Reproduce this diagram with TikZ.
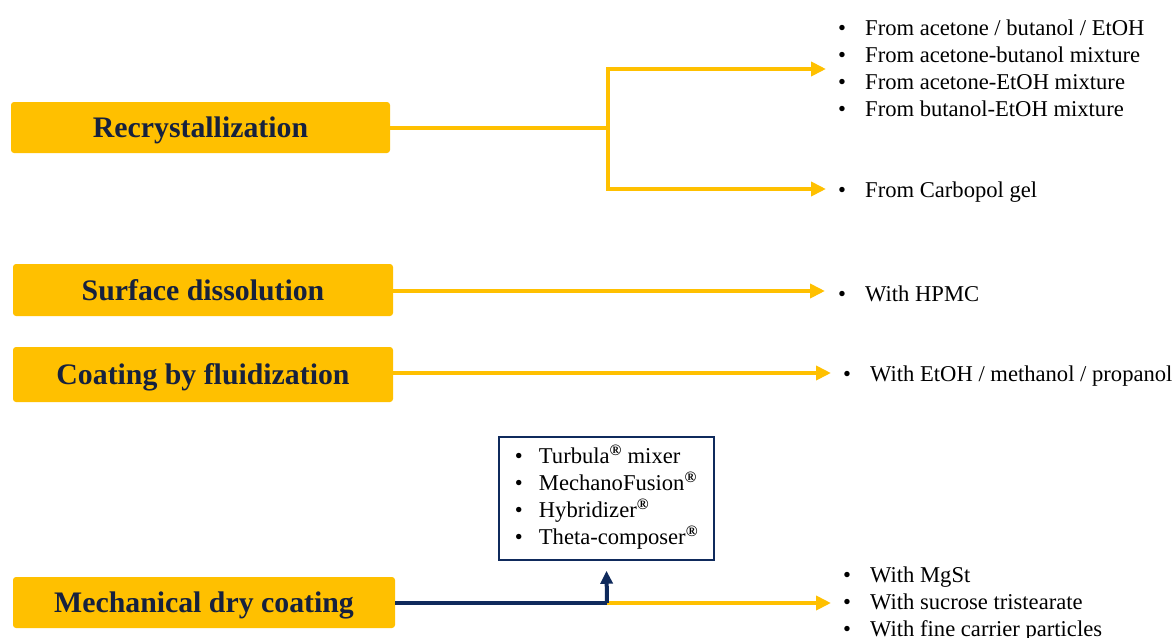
\documentclass[tikz,border=0pt]{standalone}
\usepackage{fontspec}
\setmainfont{Liberation Serif}
\usetikzlibrary{arrows.meta}
\definecolor{gold}{HTML}{FFC000}
\definecolor{navy}{HTML}{0F2A5C}
\definecolor{txtnavy}{HTML}{16213E}
\newcommand{\itm}{\makebox[27pt][l]{\textbullet}}
\newcommand{\itmb}{\makebox[24pt][l]{\textbullet}}
\newcommand{\reg}{\textsuperscript{\textbf{®}}}
\begin{document}
\begin{tikzpicture}[x=1pt,y=-1pt,
  method/.style={fill=gold, rounded corners=3pt, inner sep=0pt,
    text height=20pt, text depth=0pt,
    font=\fontsize{29.8}{34}\selectfont\bfseries, text=txtnavy},
  listtxt/.style={inner sep=0pt, anchor=base west,
    font=\fontsize{22.6}{27}\selectfont, text=black},
  goldline/.style={draw=gold, line width=4pt},
  goldarrow/.style={goldline, -{Triangle[length=15pt,width=14pt]}},
  navyline/.style={draw=navy, line width=4pt},
  navyarrow/.style={navyline, -{Triangle[length=13pt,width=12pt]}},
  toolbox/.style={draw=navy, line width=1.5pt, inner sep=0pt,
    font=\fontsize{22.6}{27}\selectfont, text=black}
]
\useasboundingbox (0,0) rectangle (1174,637);

% method boxes
\node[method, minimum width=379pt, minimum height=51pt] (rec) at (200.5,127.5) {Recrystallization};
\node[method, minimum width=380pt, minimum height=52pt] (surf) at (203,290) {Surface dissolution};
\node[method, minimum width=380pt, minimum height=55pt] (coat) at (203,374.5) {Coating by fluidization};
\node[method, minimum width=382pt, minimum height=51pt] (mech) at (204,602.5) {Mechanical dry coating};

% lists
\node[listtxt] (l1) at (838,35) {\begin{tabular}[t]{@{}l@{}}
\itm From acetone / butanol / EtOH\\
\itm From acetone-butanol mixture\\
\itm From acetone-EtOH mixture\\
\itm From butanol-EtOH mixture
\end{tabular}};
\node[listtxt] (l2) at (838,197.5) {\itm From Carbopol gel};
\node[listtxt] (l3) at (838,301.5) {\itm With HPMC};
\node[listtxt] (l4) at (843,381.5) {\itm With EtOH / methanol / propanol};
\node[listtxt] (l5) at (843,582.5) {\begin{tabular}[t]{@{}l@{}}
\itm With MgSt\\
\itm With sucrose tristearate\\
\itm With fine carrier particles
\end{tabular}};

% tools box
\node[toolbox, minimum width=215pt, minimum height=123pt] (tools) at (606.5,498.5) {\begin{tabular}{@{}l@{}}
\itmb Turbula\reg{} mixer\\
\itmb MechanoFusion\reg\\
\itmb Hybridizer\reg\\
\itmb Theta-composer\reg
\end{tabular}};

% coordinates
\coordinate (j1) at (608,127.5);
\coordinate (e1) at (826,69);
\coordinate (e2) at (826,189);
\coordinate (e3) at (825,291);
\coordinate (e4) at (831,373);
\coordinate (j4) at (607,603);
\coordinate (e5) at (831,603);

% connectors
\draw[goldline] (rec.east) -- (j1);
\draw[goldarrow] (j1) |- (e1);
\draw[goldarrow] (j1) |- (e2);
\draw[goldarrow] (surf.east |- e3) -- (e3);
\draw[goldarrow] (coat.east |- e4) -- (e4);
\draw[goldarrow] (j4) -- (e5);
\draw[navyline] (mech.east |- j4) -- (j4);
\draw[navyarrow] (j4) -- ([yshift=-10pt]tools.south);
\end{tikzpicture}
\end{document}
